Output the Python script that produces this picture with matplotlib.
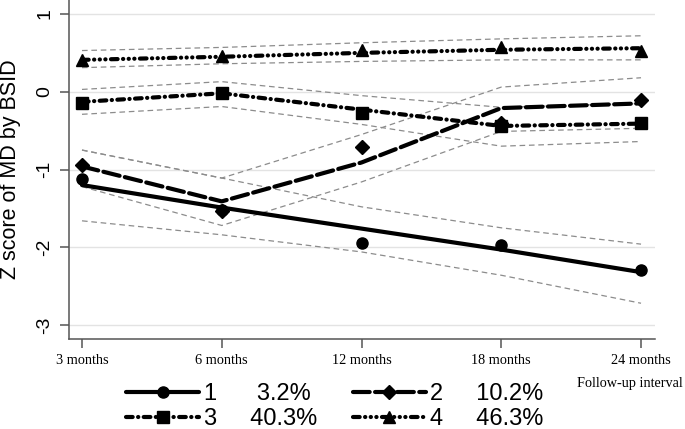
import matplotlib
matplotlib.use("Agg")
import matplotlib.pyplot as plt
from matplotlib.lines import Line2D

plt.rcParams['font.family'] = ['Liberation Sans', 'DejaVu Sans']
plt.rcParams['axes.unicode_minus'] = False

# follow-up visits
visits = ["3 months", "6 months", "12 months", "18 months", "24 months"]

# observed group means (markers)
obs1 = [-1.12, -1.52, -1.94, -1.97, -2.29]
obs2 = [-0.94, -1.54, -0.71, -0.40, -0.11]
obs3 = [-0.14, -0.01, -0.27, -0.44, -0.40]
obs4 = [0.41, 0.46, 0.54, 0.58, 0.53]

# fitted trajectories
fit1 = [-1.20, -1.49, -1.76, -2.03, -2.32]
fit2 = [-0.96, -1.41, -0.91, -0.21, -0.15]
fit3 = [-0.13, -0.02, -0.23, -0.44, -0.41]
fit4 = [0.41, 0.45, 0.50, 0.54, 0.56]

# 95% confidence bands
lo1 = [-1.66, -1.84, -2.06, -2.36, -2.72]
hi1 = [-0.75, -1.11, -1.48, -1.75, -1.96]
lo2 = [-1.22, -1.72, -1.16, -0.51, -0.47]
hi2 = [-0.75, -1.11, -0.55, 0.06, 0.18]
lo3 = [-0.29, -0.19, -0.42, -0.70, -0.64]
hi3 = [0.03, 0.13, -0.05, -0.20, -0.15]
lo4 = [0.31, 0.36, 0.39, 0.41, 0.41]
hi4 = [0.53, 0.57, 0.63, 0.68, 0.72]

groups = ["1", "2", "3", "4"]
shares = ["3.2%", "10.2%", "40.3%", "46.3%"]

fig = plt.figure(figsize=(6.85, 4.29), dpi=100)
ax = fig.add_axes([69/685, 90/429, (655-69)/685, 339/429])

x = list(range(len(visits)))

# line look for each group (round caps turn the tiny dashes into dots)
styles = [
    dict(ls='-', marker='o', ms=8),
    dict(ls=(0, (4, 1.3)), marker='D', ms=7.5),
    dict(ls=(0, (1.6, 1.3, 0.05, 1.3)), marker='s', ms=8),
    dict(ls=(0, (1.6, 1.3, 0.05, 1.3, 0.05, 1.3, 0.05, 1.3)), marker='^', ms=9),
]
obs = [obs1, obs2, obs3, obs4]
fits = [fit1, fit2, fit3, fit4]
bands = [(lo1, hi1), (lo2, hi2), (lo3, hi3), (lo4, hi4)]

for lo, hi in bands:
    for b in (lo, hi):
        ax.plot(x, b, color='#8c8c8c', lw=0.9, ls=(0, (4.5, 3)), zorder=1)

handles = []
for st, f, o in zip(styles, fits, obs):
    ax.plot(x, f, color='black', lw=3, linestyle=st['ls'],
            dash_capstyle='round', solid_capstyle='round', zorder=2)
    ax.plot(x, o, ls='none', marker=st['marker'], ms=st['ms'],
            color='black', zorder=3)
    handles.append(Line2D([], [], color='black', lw=3, linestyle=st['ls'],
                          dash_capstyle='round', solid_capstyle='round',
                          marker=st['marker'], ms=st['ms']))

ax.set_xlim(-0.093, 4.10)
ax.set_ylim(-3.18, 1.18)
ax.set_xticks(x)
ax.set_xticklabels(visits, fontfamily='Liberation Serif', fontsize=10.3)
ax.set_yticks([-3, -2, -1, 0, 1])
ax.set_yticklabels(['-3', '-2', '-1', '0', '1'], rotation=90, va='center', fontsize=14)
ax.grid(axis='y', color='#e3e3e3', lw=1)
ax.set_axisbelow(True)
for s in ['top', 'right']:
    ax.spines[s].set_visible(False)
for s in ['left', 'bottom']:
    ax.spines[s].set_color('#555555')
    ax.spines[s].set_linewidth(1.1)
ax.tick_params(axis='both', color='#555555', length=6.5, width=1.1)
ax.tick_params(axis='y', pad=5)
ax.tick_params(axis='x', pad=4)

ax.set_ylabel('Z score of MD by BSID', fontsize=15.5)
ax.yaxis.set_label_coords(-0.082, 0.5)

fig.text(683/685, 1 - 384/429, 'Follow-up interval', ha='right', va='center',
         fontfamily='Liberation Serif', fontsize=10.3)

labels = ["1      3.2%", "2     10.2%", "3     40.3%", "4     46.3%"]
order = [0, 2, 1, 3]
fig.legend([handles[i] for i in order], [labels[i] for i in order], ncol=2,
           loc='upper left', bbox_to_anchor=(126/685, 1 - 383/429),
           frameon=False, fontsize=17, handlelength=3.1, handletextpad=0.2,
           columnspacing=1.5, labelspacing=0.12, borderpad=0, borderaxespad=0,
           numpoints=1)

fig.savefig('out.png', dpi=100)
